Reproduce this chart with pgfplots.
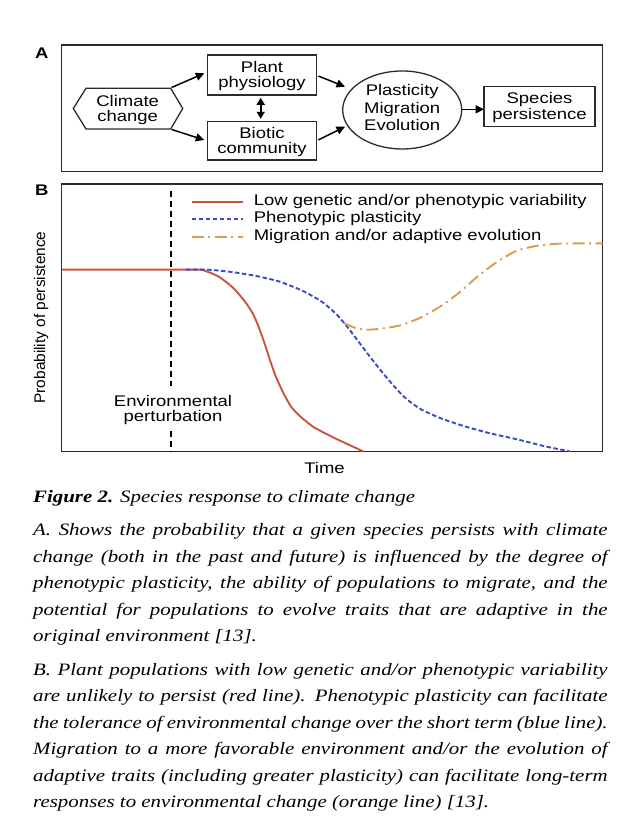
\documentclass[border=0pt]{standalone}
\usepackage{fontspec}
\setmainfont{Liberation Serif}
\newfontfamily\sansf{Liberation Sans}
\usepackage{graphicx}
\usepackage{pgfplots}
\pgfplotsset{compat=1.18}
\usetikzlibrary{arrows.meta}
\definecolor{redc}{HTML}{C9553C}
\definecolor{bluec}{HTML}{3A4BC4}
\definecolor{orangec}{HTML}{DE9A55}
\definecolor{framec}{HTML}{2B2B2B}
\newcommand\sz{\sansf\fontsize{15.4}{17.5}\selectfont}
\newcommand\cz{\fontsize{17.4}{26.5}\selectfont\itshape}
\newcommand\xs[1]{\scalebox{1.2}[1]{#1}}
\newlength\capw \setlength\capw{478.7pt}
\newcommand\capline[2]{\node[anchor=base west,inner sep=0pt] at (33,#1) {\xs{\cz\makebox[\capw][s]{#2}}};}
\newcommand\caplast[2]{\node[anchor=base west,inner sep=0pt] at (33,#1) {\xs{\cz #2}};}
\begin{document}
\begin{tikzpicture}
\path[use as bounding box, fill=white] (0pt,0pt) rectangle (632pt,834pt);
\begin{axis}[
  at={(61.7pt,382.5pt)}, anchor=south west,
  scale only axis, width=540.8pt, height=267.5pt,
  xmin=0, xmax=1, ymin=0, ymax=1,
  xtick=\empty, ytick=\empty,
  axis line style={framec, line width=1.5pt},
  xlabel={\xs{Time}},
  xlabel style={at={(axis description cs:0.486,0)}, anchor=base, yshift=-22pt, font=\sz, inner sep=0pt},
  ylabel={Probability of persistence},
  ylabel style={at={(axis description cs:0,0.501)}, anchor=base, yshift=16.7pt, font=\sz, inner sep=0pt},
  legend style={at={(rel axis cs:0.239,0.967)}, anchor=north west, draw=none, fill=none,
    inner sep=0pt, outer sep=0pt, font=\sz, row sep=0pt,
    nodes={inner xsep=0pt, inner ysep=1pt, text height=11.5pt, text depth=4pt}},
  legend cell align=left,
  legend image code/.code={\draw[#1] (0pt,0pt) -- (51pt,0pt); \path (61pt,0pt);},
]
\addplot[redc, line width=1.9pt, smooth, tension=0.4] coordinates {
 (0,0.68)(0.24,0.68)(0.261,0.678)(0.290,0.654)(0.318,0.610)(0.339,0.560)(0.353,0.517)
 (0.364,0.467)(0.375,0.405)(0.385,0.342)(0.396,0.280)(0.410,0.218)(0.424,0.168)
 (0.438,0.137)(0.466,0.091)(0.509,0.046)(0.558,0.0)};
\addlegendentry{\xs{Low genetic and/or phenotypic variability}}
\addplot[bluec, line width=1.9pt, dash pattern=on 4.5pt off 2.5pt, smooth, tension=0.4] coordinates {
 (0.23,0.68)(0.247,0.68)(0.276,0.679)(0.318,0.670)(0.360,0.656)(0.403,0.635)(0.445,0.601)
 (0.481,0.560)(0.509,0.511)(0.530,0.461)(0.551,0.405)(0.572,0.349)(0.594,0.293)
 (0.615,0.243)(0.636,0.199)(0.664,0.158)(0.700,0.125)(0.742,0.096)(0.792,0.068)
 (0.841,0.046)(0.890,0.021)(0.940,0.0)};
\addlegendentry{\xs{Phenotypic plasticity}}
\addplot[orangec, line width=1.9pt, dash pattern=on 12pt off 4.5pt on 2pt off 4.5pt, smooth, tension=0.4] coordinates {
 (0.523,0.479)(0.544,0.461)(0.565,0.455)(0.594,0.460)(0.629,0.473)(0.664,0.501)
 (0.700,0.542)(0.735,0.594)(0.770,0.656)(0.806,0.710)(0.841,0.750)(0.876,0.768)
 (0.912,0.776)(0.954,0.778)(1,0.778)};
\addlegendentry{\xs{Migration and/or adaptive evolution}}
\addplot[black, line width=1.8pt, dash pattern=on 6pt off 4pt, forget plot] coordinates {(0.202,0.975)(0.202,0.245)};
\addplot[black, line width=1.8pt, dash pattern=on 6pt off 4pt, forget plot] coordinates {(0.202,0.075)(0.202,0)};
\end{axis}
\begin{scope}[x=1pt,y=1pt]
% panel labels
\node[anchor=base, inner sep=0pt] at (41.7,775) {\sz\bfseries\xs{A}};
\node[anchor=base, inner sep=0pt] at (41.7,638.5) {\sz\bfseries\xs{B}};
% panel A frame
\draw[framec, line width=1.5pt] (61.7,789) rectangle (602.5,662.3);
% hexagon
\draw[framec, line width=1.3pt] (73.3,725.5) -- (86,745.7) -- (170.7,745.7) -- (182.7,725.5) -- (170.7,705) -- (86,705) -- cycle;
\node[anchor=base, inner sep=0pt] at (127.7,727.5) {\sz\xs{Climate}};
\node[anchor=base, inner sep=0pt] at (127.7,712.3) {\sz\xs{change}};
% plant physiology box
\draw[framec, line width=1.3pt] (207.3,779) rectangle (316.7,739);
\node[anchor=base, inner sep=0pt] at (262,761.8) {\sz\xs{Plant}};
\node[anchor=base, inner sep=0pt] at (262,746.7) {\sz\xs{physiology}};
% biotic community box
\draw[framec, line width=1.3pt] (207.3,712.3) rectangle (316.7,674);
\node[anchor=base, inner sep=0pt] at (262,695.2) {\sz\xs{Biotic}};
\node[anchor=base, inner sep=0pt] at (262,680.7) {\sz\xs{community}};
% double arrow
\draw[black, line width=1.6pt, {Triangle[length=7pt,width=8pt]}-{Triangle[length=7pt,width=8pt]}] (260.7,736.2) -- (260.7,715.2);
% arrows
\draw[black, line width=1.5pt, -{Triangle[length=8.5pt,width=8pt]}] (171.6,746.5) -- (204.3,760.7);
\draw[black, line width=1.5pt, -{Triangle[length=8.5pt,width=8pt]}] (171.6,704.5) -- (204.3,694);
\draw[black, line width=1.5pt, -{Triangle[length=8.5pt,width=8pt]}] (318.3,758) -- (345,747.3);
\draw[black, line width=1.5pt, -{Triangle[length=8.5pt,width=8pt]}] (318.3,694) -- (345,707.3);
% ellipse
\draw[framec, line width=1.3pt] (402.2,724) ellipse [x radius=59.5, y radius=39];
\node[anchor=base, inner sep=0pt] at (402.2,738.1) {\sz\xs{Plasticity}};
\node[anchor=base, inner sep=0pt] at (402.2,720.6) {\sz\xs{Migration}};
\node[anchor=base, inner sep=0pt] at (402.2,703) {\sz\xs{Evolution}};
\draw[black, line width=1.5pt, -{Triangle[length=8.5pt,width=8pt]}] (461.7,724.7) -- (484,724.7);
% species persistence box
\draw[framec, line width=1.3pt] (484,747.3) rectangle (595,707.3);
\node[anchor=base, inner sep=0pt] at (539.5,730) {\sz\xs{Species}};
\node[anchor=base, inner sep=0pt] at (539.5,714) {\sz\xs{persistence}};
% environmental perturbation
\node[anchor=base, inner sep=0pt] at (173,427.8) {\sz\xs{Environmental}};
\node[anchor=base, inner sep=0pt] at (173,412.3) {\sz\xs{perturbation}};
% caption
\caplast{331.5}{\textbf{Figure 2.} Species response to climate change}
\capline{298}{A. Shows the probability that a given species persists with climate}
\capline{271.5}{change (both in the past and future) is influenced by the degree of}
\capline{245}{phenotypic plasticity, the ability of populations to migrate, and the}
\capline{218.5}{potential for populations to evolve traits that are adaptive in the}
\caplast{192}{original environment [13].}
\capline{158.5}{B. Plant populations with low genetic and/or phenotypic variability}
\capline{132}{are unlikely to persist (red line). Phenotypic plasticity can facilitate}
\capline{105.5}{the tolerance of environmental change over the short term (blue line).}
\capline{79}{Migration to a more favorable environment and/or the evolution of}
\capline{52.5}{adaptive traits (including greater plasticity) can facilitate long-term}
\caplast{26}{responses to environmental change (orange line) [13].}
\end{scope}
\end{tikzpicture}
\end{document}
